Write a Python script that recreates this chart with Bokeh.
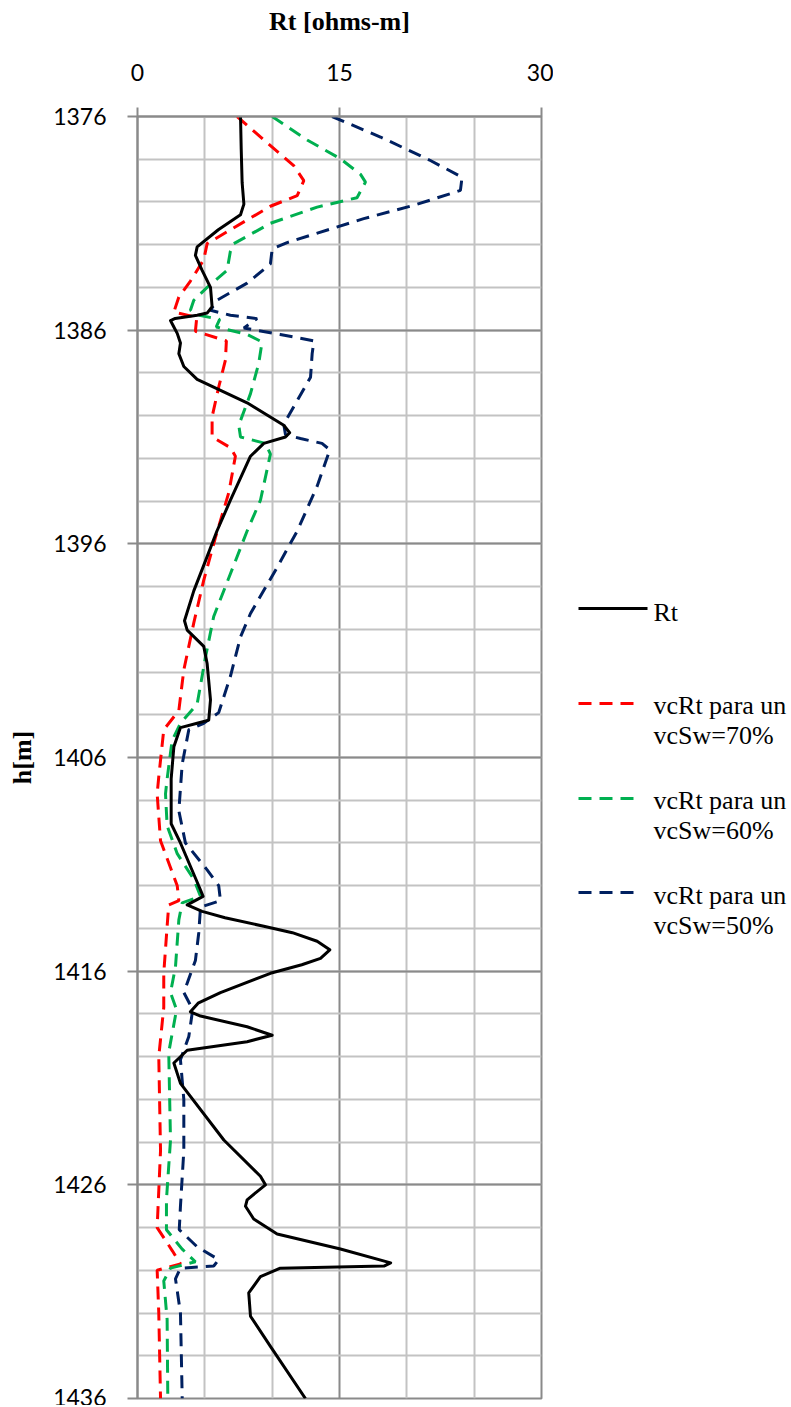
from bokeh.plotting import figure
from bokeh.models import Range1d, FixedTicker
from bokeh.layouts import row
from bokeh.embed import file_html
from bokeh.resources import INLINE
from bokeh.core.properties import value

# ---------------- data ----------------
rt_depth = [1376.0, 1377.5, 1379.1, 1380.1, 1380.6, 1381.3, 1382.1, 1382.5, 1383.2, 1384.0,
            1384.9, 1385.2, 1385.3, 1385.45, 1385.55, 1385.85, 1386.15, 1386.6, 1387.1, 1387.7,
            1388.3, 1389.4, 1390.45, 1390.8, 1391.0, 1391.3, 1391.9, 1393.96, 1395.4, 1396.6,
            1398.2, 1399.6, 1400.04, 1400.8, 1401.6, 1403.3, 1404.25, 1404.4, 1404.6, 1405.5,
            1407.0, 1409.1, 1410.0, 1412.2, 1412.5, 1412.9, 1413.2, 1413.5, 1413.9, 1414.2,
            1414.6, 1415.0, 1415.4, 1415.7, 1416.1, 1417.0, 1417.5, 1417.9, 1418.1, 1418.6,
            1419.0, 1419.3, 1419.7, 1420.3, 1421.25, 1423.9, 1425.6, 1426.0, 1426.7, 1427.0,
            1427.6, 1428.3, 1429.0, 1429.65, 1429.8, 1429.9, 1430.3, 1431.06, 1432.15, 1433.56,
            1436.0]
rt_value = [7.65, 7.7, 7.77, 7.9, 7.65, 6.0, 4.43, 4.3, 4.8, 5.42,
            5.54, 5.17, 4.43, 2.8, 2.45, 2.7, 2.95, 3.19, 3.07, 3.44,
            4.43, 8.14, 10.86, 11.3, 10.99, 9.38, 8.39, 6.9, 5.9, 5.17,
            4.18, 3.49, 3.69, 4.92, 5.17, 5.42, 5.29, 4.43, 3.19, 2.7,
            2.5, 2.5, 3.19, 4.68, 4.87, 3.69, 4.8, 6.5, 9.38, 11.5,
            13.34, 14.28, 13.59, 12.2, 9.87, 6.16, 4.5, 3.93, 4.68, 8.14,
            10.0, 8.14, 3.69, 2.7, 3.19, 6.41, 9.13, 9.5, 8.14, 8.02,
            8.63, 10.37, 15.07, 18.8, 18.3, 10.6, 9.13, 8.26, 8.39, 9.87,
            12.47]

sw70_depth = [1376.0, 1377.1, 1378.3, 1379.0, 1379.7, 1380.2, 1381.3, 1381.95, 1382.7, 1383.7,
              1384.45, 1385.15, 1385.4, 1386.05, 1386.5, 1387.4, 1388.66, 1390.06, 1391.0, 1391.5,
              1391.9, 1393.6, 1395.7, 1397.7, 1399.7, 1401.9, 1403.8, 1404.7, 1406.9, 1407.7,
              1409.9, 1412.0, 1412.7, 1412.9, 1413.9, 1416.1, 1417.7, 1420.0, 1424.4, 1428.0,
              1429.1, 1429.7, 1430.0, 1432.0, 1436.0]
sw70_value = [7.4, 9.38, 11.6, 12.35, 11.86, 9.87, 6.9, 5.17, 4.92, 3.93,
              3.07, 2.7, 4.4, 4.3, 6.6, 6.53, 6.03, 5.54, 5.54, 6.9,
              7.27, 6.78, 5.79, 4.92, 4.18, 3.44, 3.07, 1.95, 1.58, 1.46,
              1.71, 2.95, 3.07, 2.32, 2.2, 1.95, 1.95, 1.58, 1.71, 1.46,
              2.6, 3.19, 1.46, 1.58, 1.71]

sw60_depth = [1376.0, 1377.1, 1377.98, 1378.7, 1379.07, 1379.8, 1380.24, 1381.0, 1381.95, 1382.3,
              1383.2, 1384.0, 1384.6, 1385.07, 1385.3, 1385.5, 1385.85, 1386.2, 1386.55, 1387.56,
              1388.97, 1390.45, 1391.0, 1391.3, 1391.8, 1393.96, 1395.4, 1397.4, 1399.4, 1401.3,
              1403.5, 1404.4, 1405.2, 1407.0, 1407.7, 1409.2, 1410.5, 1411.7, 1412.5, 1412.8,
              1413.6, 1415.8, 1417.0, 1417.8, 1419.8, 1423.9, 1426.7, 1428.1, 1429.0, 1429.6,
              1429.9, 1430.5, 1432.3, 1436.0]
sw60_value = [10.0, 12.6, 15.07, 16.55, 16.93, 16.3, 13.34, 9.87, 7.15, 6.9,
              6.65, 5.17, 4.18, 3.93, 4.6, 6.1, 5.85, 8.14, 9.25, 9.0,
              8.39, 7.52, 7.65, 9.5, 9.87, 9.13, 8.14, 6.9, 5.66, 5.05,
              4.43, 3.19, 2.57, 2.2, 2.08, 2.2, 2.95, 4.18, 4.68, 3.32,
              3.07, 2.82, 2.45, 2.9, 2.32, 2.45, 2.15, 2.15, 3.3, 4.3,
              2.45, 1.95, 2.2, 2.25]

sw50_depth = [1376.0, 1376.96, 1378.06, 1378.84, 1379.46, 1380.16, 1380.78, 1381.9, 1382.2, 1382.9,
              1383.8, 1384.6, 1385.07, 1385.3, 1385.46, 1385.9, 1386.2, 1386.5, 1387.1, 1388.2,
              1390.4, 1390.9, 1391.07, 1391.3, 1391.6, 1393.3, 1395.4, 1397.1, 1399.26, 1400.35,
              1402.2, 1403.9, 1404.4, 1404.7, 1406.3, 1408.5, 1410.0, 1411.26, 1412.0, 1412.7,
              1413.0, 1414.2, 1415.5, 1417.0, 1417.8, 1419.06, 1420.15, 1422.0, 1424.4, 1427.0,
              1428.1, 1428.9, 1429.5, 1429.8, 1429.9, 1430.4, 1432.0, 1436.0]
sw50_value = [14.45, 18.04, 21.75, 24.1, 23.98, 20.5, 16.8, 11.11, 10.0, 9.87,
              8.14, 5.9, 5.42, 6.9, 8.88, 7.9, 10.6, 13.1, 12.97, 12.85,
              10.86, 10.99, 12.1, 13.7, 14.28, 13.34, 11.86, 10.37, 8.39, 7.65,
              6.9, 6.03, 4.92, 3.81, 3.32, 3.07, 3.56, 5.17, 6.03, 6.16,
              4.68, 4.55, 4.3, 3.44, 4.1, 3.81, 3.19, 3.44, 3.44, 3.19,
              3.1, 4.43, 6.03, 5.66, 3.19, 2.82, 3.19, 3.32]

x_ticks = [0, 15, 30]
x_minor = [5, 10, 20, 25]
y_ticks = [1376, 1386, 1396, 1406, 1416, 1426, 1436]
y_minor = list(range(1376, 1437, 2))

series_names = ["Rt", "vcRt para un", "vcRt para un", "vcRt para un"]
series_second = ["", "vcSw=70%", "vcSw=60%", "vcSw=50%"]
series_colors = ["#000000", "#FF0000", "#00B050", "#002060"]

MAJ = "#8a8a8a"
MIN = "#c3c3c3"

H = 1405
MAIN_W = 553

# ---------------- main plot ----------------
p = figure(width=MAIN_W, height=H,
           x_range=Range1d(0, 30), y_range=Range1d(1436, 1376),
           x_axis_location="above",
           output_backend="svg", toolbar_location=None,
           min_border_left=137, min_border_right=12,
           min_border_top=116, min_border_bottom=H - 1398)

p.xaxis.ticker = FixedTicker(ticks=x_ticks, minor_ticks=x_minor)
p.yaxis.ticker = FixedTicker(ticks=y_ticks, minor_ticks=y_minor)
p.xgrid.ticker = FixedTicker(ticks=x_ticks, minor_ticks=x_minor)
p.ygrid.ticker = FixedTicker(ticks=y_ticks, minor_ticks=y_minor)

for g in (p.xgrid, p.ygrid):
    g.grid_line_color = MAJ
    g.grid_line_width = 2
    g.minor_grid_line_color = MIN
    g.minor_grid_line_width = 2

p.outline_line_color = MAJ
p.outline_line_width = 2

for ax in (p.xaxis, p.yaxis):
    ax.axis_line_color = MAJ
    ax.axis_line_width = 2
    ax.major_tick_line_color = MAJ
    ax.major_tick_line_width = 2
    ax.minor_tick_line_color = None
    ax.major_tick_in = 0
    ax.major_label_text_font = "Lato"
    ax.major_label_text_font_size = "23px"
    ax.major_label_text_color = "#000000"
    ax.axis_label_text_font = "Liberation Serif"
    ax.axis_label_text_font_style = "bold"
    ax.axis_label_text_font_size = "26px"
    ax.axis_label_text_color = "#000000"

p.xaxis.major_tick_out = 9
p.xaxis.major_label_standoff = 27
p.xaxis.axis_label = "Rt [ohms-m]"
p.xaxis.axis_label_standoff = 25

p.yaxis.major_tick_out = 10
p.yaxis.major_label_standoff = 21
p.yaxis.axis_label = "h[m]"
p.yaxis.axis_label_standoff = 13

dash = "13 8"
p.line(sw70_value, sw70_depth, line_color=series_colors[1], line_width=3, line_dash=dash)
p.line(sw60_value, sw60_depth, line_color=series_colors[2], line_width=3, line_dash=dash)
p.line(sw50_value, sw50_depth, line_color=series_colors[3], line_width=3, line_dash=dash)
p.line(rt_value, rt_depth, line_color=series_colors[0], line_width=3, line_join="round")

# ---------------- legend panel (frame aligned with main frame: page coords) ----------------
LG_W = 791 - MAIN_W
lg = figure(width=LG_W, height=H, x_range=Range1d(MAIN_W, 791), y_range=Range1d(1398, 116),
            x_axis_type=None, y_axis_type=None,
            output_backend="svg", toolbar_location=None,
            min_border_left=0, min_border_right=0,
            min_border_top=116, min_border_bottom=H - 1398)
lg.outline_line_color = None

leg_line_y = [608, 703, 798, 892]
leg_text_y = [612, 705, 800, 895]
for i in range(4):
    if i == 0:
        lg.line([578, 647], [leg_line_y[i], leg_line_y[i]], line_color=series_colors[i], line_width=3)
        lg.text([653], [leg_text_y[i]], text=[series_names[i]],
                text_font=value("Liberation Serif"), text_font_size=value("26px"),
                text_baseline="middle", text_color="#000000")
    else:
        lg.line([578, 633], [leg_line_y[i], leg_line_y[i]], line_color=series_colors[i], line_width=3,
                line_dash=dash)
        lg.text([653, 653], [leg_text_y[i], leg_text_y[i] + 30],
                text=[series_names[i], series_second[i]],
                text_font=value("Liberation Serif"), text_font_size=value("26px"),
                text_baseline="middle", text_color="#000000")

layout = row(p, lg)
open("out.html", "w").write(file_html(layout, INLINE))
